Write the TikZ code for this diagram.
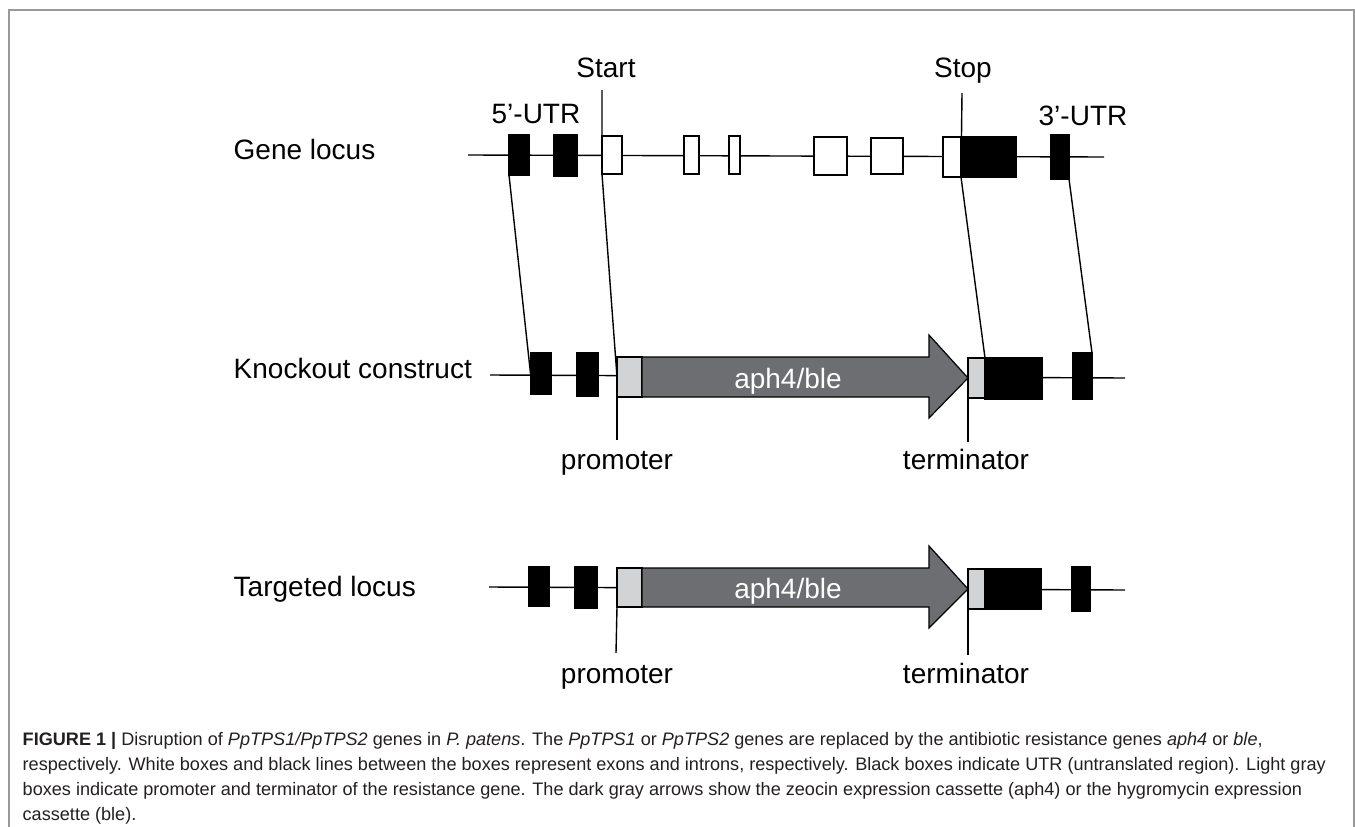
\documentclass[tikz,border=0pt]{standalone}
\usepackage{fontspec}
\setmainfont{Liberation Sans}
\usetikzlibrary{positioning}
\definecolor{cassette}{HTML}{6D6E71}
\definecolor{regul}{HTML}{D1D3D4}
\definecolor{framegray}{HTML}{999999}
\definecolor{captext}{HTML}{231F20}

\begin{document}
\begin{tikzpicture}[x=1pt, y=-1pt, line width=1.4pt,
  utr/.style={draw, fill=black, inner sep=0pt, outer sep=0pt},
  exon/.style={draw, fill=white, inner sep=0pt, outer sep=0pt},
  regbox/.style={draw, fill=regul, inner sep=0pt, outer sep=0pt},
  lbl/.style={font=\fontsize{28}{34}\selectfont, inner sep=0pt, anchor=base},
  rowlbl/.style={font=\fontsize{28}{34}\selectfont, inner sep=0pt, anchor=base west},
  captxt/.style={font=\fontsize{18.1}{22}\selectfont, text=captext, inner sep=0pt, anchor=base west}]

\useasboundingbox (0,0) rectangle (1355,827);
\draw[framegray, line width=2pt] (9,827) -- (9,10) -- (1354,10) -- (1354,827);

%============ gene locus
\node[rowlbl] (gname) at (233,159) {Gene locus};
\coordinate (gL) at (468,155);
\coordinate (gR) at (1104,157);
\draw (gL) -- (gR);
\node[utr, minimum width=20pt, minimum height=40pt] (g1) at (519,155) {};
\node[utr, minimum width=23pt, minimum height=41pt] (g2) at (565.5,155.5) {};
\node[exon, minimum width=20pt, minimum height=38pt] (e1) at (612,155) {};
\node[exon, minimum width=15pt, minimum height=38pt] (e2) at (691.5,155) {};
\node[exon, minimum width=11pt, minimum height=38pt] (e3) at (734.5,155) {};
\node[exon, minimum width=33pt, minimum height=38pt] (e4) at (830.5,156) {};
\node[exon, minimum width=32pt, minimum height=36pt] (e5) at (887,156) {};
\node[exon, minimum width=18pt, minimum height=40pt] (e6) at (952,157) {};
\node[utr, minimum width=55pt, minimum height=40pt] (g3) at (988.5,157) {};
\node[utr, minimum width=18pt, minimum height=44pt] (g4) at (1060,157) {};

\node[lbl] (start) at (606,77) {Start};
\node[lbl] (stop) at (963,77) {Stop};
\node[lbl] (utr5) at (536,123) {5’-UTR};
\node[lbl] (utr3) at (1083,125) {3’-UTR};
\coordinate (st) at (602,90);
\coordinate (sp) at (962,93);

%============ knockout construct
\node[rowlbl] (kname) at (233,378) {Knockout construct};
\coordinate (kL) at (490,375);
\coordinate (kR) at (1125,378);
\draw (kL) -- (kR);
\node[utr, minimum width=21pt, minimum height=41pt] (k1) at (541,373.5) {};
\node[utr, minimum width=21pt, minimum height=43pt] (k2) at (587.5,374.5) {};
\node[regbox, minimum width=25pt, minimum height=40pt] (kp) at (629.5,377) {};
\node[regbox, minimum width=17pt, minimum height=40pt] (kt) at (976.5,378) {};
\node[utr, minimum width=57pt, minimum height=41pt] (k3) at (1013.5,378.5) {};
\node[utr, minimum width=19pt, minimum height=46pt] (k4) at (1082.5,376) {};
\draw[fill=cassette, line width=1.2pt] (kp.north east) -- ++(287,0) -- ++(0,-22) -- (kt.west)
  -- ++(-39,40) -- ++(0,-21) -- (kp.south east) -- cycle;
\node[lbl, text=white] (ka) at (788,388) {aph4/ble};

\coordinate (kpe) at (617,440);
\coordinate (kte) at (968,442);
\draw (kp.south west) -- (kpe);
\draw (kt.south west) -- (kte);
\node[lbl] (kprom) at (617,469) {promoter};
\node[lbl] (kterm) at (966,469) {terminator};

%============ homologous arms
\draw (g1.south west) -- (k1.west);
\draw (st) -- (e1.south west) -- (kp.west);
\draw (sp) -- (g3.south west) -- (k3.north west);
\draw (g4.south east) -- (k4.north east);

%============ targeted locus
\node[rowlbl] (tname) at (233,596) {Targeted locus};
\coordinate (tL) at (489,587);
\coordinate (tR) at (1125,590);
\draw (tL) -- (tR);
\node[utr, minimum width=20pt, minimum height=39pt] (t1) at (539,586.5) {};
\node[utr, minimum width=22pt, minimum height=41pt] (t2) at (586,587.5) {};
\node[regbox, minimum width=25pt, minimum height=39pt] (tp) at (629.5,587.5) {};
\node[regbox, minimum width=17pt, minimum height=40pt] (tt) at (976.5,589) {};
\node[utr, minimum width=56pt, minimum height=40pt] (t3) at (1013,589) {};
\node[utr, minimum width=18pt, minimum height=44pt] (t4) at (1081,589) {};
\draw[fill=cassette, line width=1.2pt] (tp.north east) -- ++(287,0) -- ++(0,-22) -- (tt.west)
  -- ++(-39,39) -- ++(0,-21) -- (tp.south east) -- cycle;
\node[lbl, text=white] (ta) at (788,598) {aph4/ble};

\coordinate (tpe) at (616,653);
\coordinate (tte) at (968,655);
\draw (tp.south west) -- (tpe);
\draw (tt.south west) -- (tte);
\node[lbl] (tprom) at (617,683) {promoter};
\node[lbl] (tterm) at (966,683) {terminator};

%============ caption
\node[captxt] (cap1) at (22,745) {\textbf{FIGURE 1 |} Disruption of \textit{PpTPS1/PpTPS2} genes in \textit{P. patens}. The \textit{PpTPS1} or \textit{PpTPS2} genes are replaced by the antibiotic resistance genes \textit{aph4} or \textit{ble},};
\node[captxt] (cap2) at (22,770) {respectively. White boxes and black lines between the boxes represent exons and introns, respectively. Black boxes indicate UTR (untranslated region). Light gray};
\node[captxt] (cap3) at (22,795) {boxes indicate promoter and terminator of the resistance gene. The dark gray arrows show the zeocin expression cassette (aph4) or the hygromycin expression};
\node[captxt] (cap4) at (22,820) {cassette (ble).};
\end{tikzpicture}
\end{document}
